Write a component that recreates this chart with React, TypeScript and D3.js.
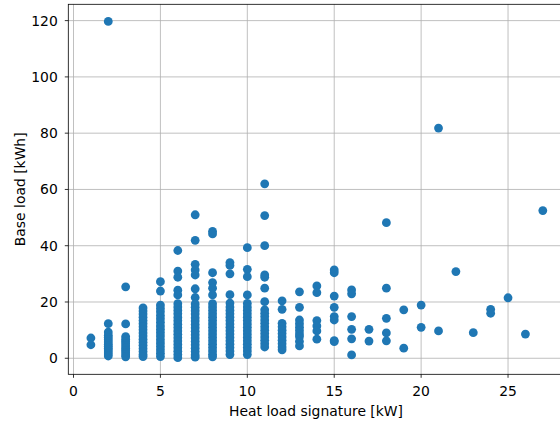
import * as d3 from 'd3';
import React from 'react';

// heat load signature (kW) per column, and the base loads (kWh) seen in it
const heatSignature = [1, 2, 3, 4, 5, 6, 7, 8, 9, 10, 11, 12, 13, 14, 15, 16, 17, 18, 19, 20, 21, 22, 23, 24, 25, 26, 27];

const baseLoads = [
  [7.2, 4.8],
  [119.7, 12.3, 9.3, 8.2, 7.4, 6.6, 5.8, 5.0, 4.3, 3.6, 2.9, 2.2, 1.5, 0.8],
  [25.4, 12.2, 7.7, 6.8, 6.0, 5.2, 4.4, 3.6, 2.8, 2.0, 1.2, 0.5],
  [17.9, 16.8, 15.7, 14.6, 13.4, 12.3, 11.2, 10.1, 9.0, 7.9, 6.8, 5.7, 4.6, 3.5, 2.4, 1.3, 0.6],
  [27.2, 23.9, 18.9, 17.7, 16.5, 15.2, 14.0, 12.8, 11.5, 10.3, 9.1, 7.9, 6.6, 5.4, 4.2, 3.0, 1.8, 0.6],
  [38.3, 31.0, 28.8, 24.2, 22.5, 19.4, 18.2, 17.0, 15.8, 14.5, 13.3, 12.1, 10.9, 9.7, 8.5, 7.3, 6.1, 4.9, 3.7, 2.5, 1.3, 0.2],
  [51.0, 41.9, 33.4, 31.4, 29.6, 24.7, 21.6, 19.3, 18.1, 16.9, 15.7, 14.4, 13.2, 12.0, 10.8, 9.6, 8.4, 7.2, 6.0, 4.8, 3.6, 2.4, 1.2, 0.4],
  [45.1, 44.2, 30.4, 26.9, 24.9, 22.5, 19.4, 18.2, 17.0, 15.8, 14.6, 13.4, 12.2, 11.0, 9.8, 8.6, 7.4, 6.2, 5.0, 3.8, 2.6, 1.4, 0.5],
  [34.0, 33.0, 30.0, 22.6, 19.6, 18.2, 17.0, 15.8, 14.6, 13.4, 12.2, 11.0, 9.8, 8.6, 7.4, 6.2, 5.0, 3.8, 2.6, 1.3],
  [39.3, 31.6, 29.0, 22.5, 19.5, 18.2, 17.0, 15.8, 14.6, 13.4, 12.2, 11.0, 9.8, 8.6, 7.4, 6.2, 5.0, 3.8, 2.6, 1.3],
  [62.0, 50.7, 40.0, 29.6, 28.8, 24.9, 20.1, 17.2, 16.0, 14.8, 13.6, 12.4, 11.2, 10.0, 8.8, 7.6, 6.4, 5.2, 4.0],
  [20.4, 17.4, 12.4, 11.2, 10.0, 8.8, 7.6, 6.4, 5.2, 4.0, 3.0],
  [23.6, 18.1, 13.6, 12.3, 11.0, 9.8, 8.6, 7.7, 6.0, 4.4],
  [25.7, 23.3, 13.4, 11.5, 9.7, 6.8],
  [31.4, 30.4, 22.1, 18.1, 14.8, 13.6, 6.3, 5.9],
  [24.3, 22.9, 14.8, 10.3, 6.9, 1.2],
  [10.3, 6.1],
  [48.2, 24.9, 14.2, 9.0, 6.2],
  [17.2, 3.6],
  [18.9, 11.0],
  [81.8, 9.7],
  [30.8],
  [9.1],
  [17.4, 16.0],
  [21.5],
  [8.6],
  [52.5],
];

const xTicks = [0, 5, 10, 15, 20, 25];
const yTicks = [0, 20, 40, 60, 80, 100, 120];

const W = 560;
const H = 426;
const font = 'DejaVu Sans, sans-serif';
const fs = 13.9;

export default function App() {
  const x = d3.scaleLinear().domain([-0.3, 28.3]).range([68.3, 565.4]);
  const y = d3.scaleLinear().domain([-5.7, 125.8]).range([374.3, 4.3]);

  const points = heatSignature.flatMap((hx, i) => baseLoads[i].map((b) => ({ hx, b })));

  const [x0, x1] = x.range();
  const [y0, y1] = y.range();

  return (
    <svg width={W} height={H} style={{ position: 'absolute', left: 0, top: 0, background: '#fff' }}>
      <rect x={0} y={0} width={W} height={H} fill="#fff" />
      {xTicks.map((t) => (
        <line key={'gx' + t} x1={x(t)} x2={x(t)} y1={y0} y2={y1} stroke="#b0b0b0" strokeWidth={0.8} />
      ))}
      {yTicks.map((t) => (
        <line key={'gy' + t} x1={x0} x2={x1} y1={y(t)} y2={y(t)} stroke="#b0b0b0" strokeWidth={0.8} />
      ))}
      {points.map((p, i) => (
        <circle key={i} cx={x(p.hx)} cy={y(p.b)} r={4.4} fill="#1f77b4" />
      ))}
      <rect x={x0} y={y1} width={x1 - x0} height={y0 - y1} fill="none" stroke="#000" strokeWidth={0.8} />
      {xTicks.map((t) => (
        <g key={'tx' + t}>
          <line x1={x(t)} x2={x(t)} y1={y0} y2={y0 + 3.5} stroke="#000" strokeWidth={0.8} />
          <text x={x(t)} y={y0 + 21.5} textAnchor="middle" fontFamily={font} fontSize={fs}>{t}</text>
        </g>
      ))}
      {yTicks.map((t) => (
        <g key={'ty' + t}>
          <line x1={x0 - 3.5} x2={x0} y1={y(t)} y2={y(t)} stroke="#000" strokeWidth={0.8} />
          <text x={x0 - 10.5} y={y(t)} dy="0.36em" textAnchor="end" fontFamily={font} fontSize={fs}>{t}</text>
        </g>
      ))}
      <text x={316} y={416} textAnchor="middle" fontFamily={font} fontSize={fs}>
        Heat load signature [kW]
      </text>
      <text transform={`translate(25,${(y0 + y1) / 2}) rotate(-90)`} textAnchor="middle" fontFamily={font} fontSize={fs}>
        Base load [kWh]
      </text>
    </svg>
  );
}
